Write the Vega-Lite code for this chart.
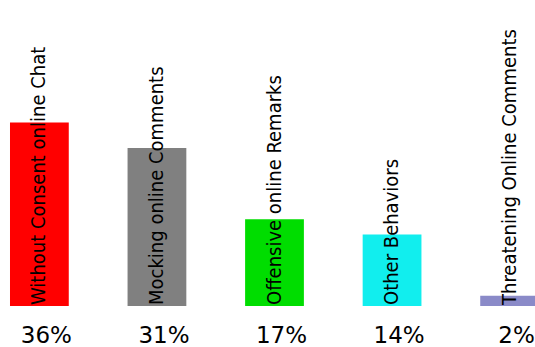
{
  "$schema": "https://vega.github.io/schema/vega-lite/v6.json",
  "autosize": "none",
  "padding": {"left": 0, "top": 0, "right": 0, "bottom": 41},
  "width": 549,
  "height": 306,
  "background": "white",
  "config": {"view": {"stroke": null}},
  "data": {
    "values": [
      {"behavior": "Without Consent online Chat", "pct": 36, "label": "36%"},
      {"behavior": "Mocking online Comments", "pct": 31, "label": "31%"},
      {"behavior": "Offensive online Remarks", "pct": 17, "label": "17%"},
      {"behavior": "Other Behaviors", "pct": 14, "label": "14%"},
      {"behavior": "Threatening Online Comments", "pct": 2, "label": "2%"}
    ]
  },
  "encoding": {
    "x": {
      "field": "behavior",
      "type": "nominal",
      "sort": null,
      "axis": null,
      "scale": {"paddingInner": 0.5, "paddingOuter": 0.085}
    }
  },
  "layer": [
    {
      "mark": {"type": "bar"},
      "encoding": {
        "y": {"field": "pct", "type": "quantitative", "axis": null, "scale": {"domain": [0, 60]}},
        "color": {
          "field": "behavior",
          "type": "nominal",
          "sort": null,
          "legend": null,
          "scale": {"range": ["#ff0000", "#808080", "#00dd00", "#11eeee", "#8a8ac8"]}
        }
      }
    },
    {
      "mark": {
        "type": "text",
        "angle": 270,
        "align": "left",
        "baseline": "middle",
        "dx": 1,
        "font": "DejaVu Sans Condensed, Liberation Sans",
        "fontSize": 20,
        "color": "black"
      },
      "encoding": {
        "y": {"datum": 0},
        "text": {"field": "behavior"}
      }
    },
    {
      "mark": {
        "type": "text",
        "align": "center",
        "baseline": "middle",
        "dy": 30,
        "xOffset": 7,
        "font": "DejaVu Sans",
        "fontSize": 23,
        "color": "black"
      },
      "encoding": {
        "y": {"datum": 0},
        "text": {"field": "label"}
      }
    }
  ]
}
